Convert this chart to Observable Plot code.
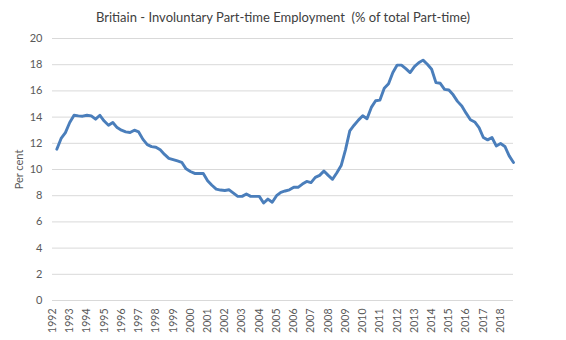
<!DOCTYPE html>
<html>
<head>
<meta charset="utf-8">
<script src="https://cdn.jsdelivr.net/npm/d3@7"></script>
<script src="https://cdn.jsdelivr.net/npm/@observablehq/plot@0.6"></script>
<style>
  html, body { margin: 0; padding: 0; background: #fff; }
  #wrap { width: 566px; height: 340px; position: relative; overflow: hidden; }
  #title { height: 28px; box-sizing: border-box; padding-top: 9px; line-height: 16px;
           text-align: center; font-family: Lato, "Open Sans", sans-serif; font-size: 13px; color: #404040; }
  svg { display: block; }
</style>
</head>
<body>
<div id="wrap">
  <div id="title">Britiain - Involuntary Part-time Employment&nbsp; (% of total Part-time)</div>
  <div id="chart"></div>
</div>
<script>
// Year labels (category axis, one label per year at its first quarter)
const yearLabels = ["1992","1993","1994","1995","1996","1997","1998","1999","2000","2001","2002","2003","2004","2005","2006","2007","2008","2009","2010","2011","2012","2013","2014","2015","2016","2017","2018"];

// Quarterly values from 1992 Q2 to 2018 Q4 (% of part-time workers)
const firstQuarter = 1; // 0 = 1992 Q1, so data begin at 1992 Q2
const values = [
         11.55, 12.37, 12.82,    // 1992 Q2-Q4
  13.59, 14.14, 14.09, 14.07,    // 1993
  14.14, 14.09, 13.84, 14.14,    // 1994
  13.7,  13.38, 13.59, 13.2,     // 1995
  13.0,  12.87, 12.82, 13.0,     // 1996
  12.87, 12.3,  11.9,  11.75,    // 1997
  11.7,  11.5,  11.15, 10.85,    // 1998
  10.75, 10.65, 10.55, 10.05,    // 1999
  9.85,  9.7,   9.7,   9.7,      // 2000
  9.15,  8.8,   8.5,   8.43,     // 2001
  8.4,   8.45,  8.2,   7.95,     // 2002
  7.95,  8.13,  7.95,  7.95,     // 2003
  7.95,  7.44,  7.74,  7.5,      // 2004
  8.0,   8.26,  8.36,  8.45,     // 2005
  8.64,  8.64,  8.89,  9.09,     // 2006
  9.0,   9.4,   9.55,  9.88,     // 2007
  9.55,  9.25,  9.75,  10.3,     // 2008
  11.5,  12.95, 13.38, 13.77,    // 2009
  14.1,  13.88, 14.74, 15.25,    // 2010
  15.3,  16.2,  16.55, 17.4,     // 2011
  17.97, 17.97, 17.7,  17.4,     // 2012
  17.85, 18.15, 18.35, 18.03,    // 2013
  17.65, 16.63, 16.58, 16.12,    // 2014
  16.07, 15.7,  15.2,  14.85,    // 2015
  14.3,  13.8,  13.63, 13.2,     // 2016
  12.44, 12.26, 12.44, 11.8,     // 2017
  11.98, 11.76, 11.04, 10.54     // 2018
];

const yTicks = [0, 2, 4, 6, 8, 10, 12, 14, 16, 18, 20];

const data = values.map((v, k) => ({i: k + firstQuarter, v}));
const nCategories = yearLabels.length * 4;
const xTicks = yearLabels.map((_, k) => k * 4);

const chart = Plot.plot({
  width: 566,
  height: 312,
  marginLeft: 52,
  marginRight: 53,
  marginTop: 10,
  marginBottom: 40,
  style: {fontFamily: "Lato, 'Open Sans', sans-serif", fontSize: "11px", color: "#595959", background: "#fff"},
  x: {type: "linear", domain: [0, nCategories - 1]},
  y: {domain: [0, 20]},
  marks: [
    Plot.ruleY(yTicks, {stroke: "#d9d9d9", strokeWidth: 1}),
    Plot.axisY(yTicks, {tickSize: 0, tickPadding: 10, label: "Per cent", labelAnchor: "center", labelArrow: false, labelOffset: 37}),
    Plot.axisX(xTicks, {tickFormat: d => yearLabels[d / 4], tickRotate: -90, tickSize: 0, tickPadding: 8, label: null, fontSize: 10.5}),
    Plot.line(data, {x: "i", y: "v", stroke: "#4a7ebb", strokeWidth: 2.9, strokeLinejoin: "round", strokeLinecap: "round"})
  ]
});
document.getElementById("chart").appendChild(chart);
</script>
</body>
</html>
